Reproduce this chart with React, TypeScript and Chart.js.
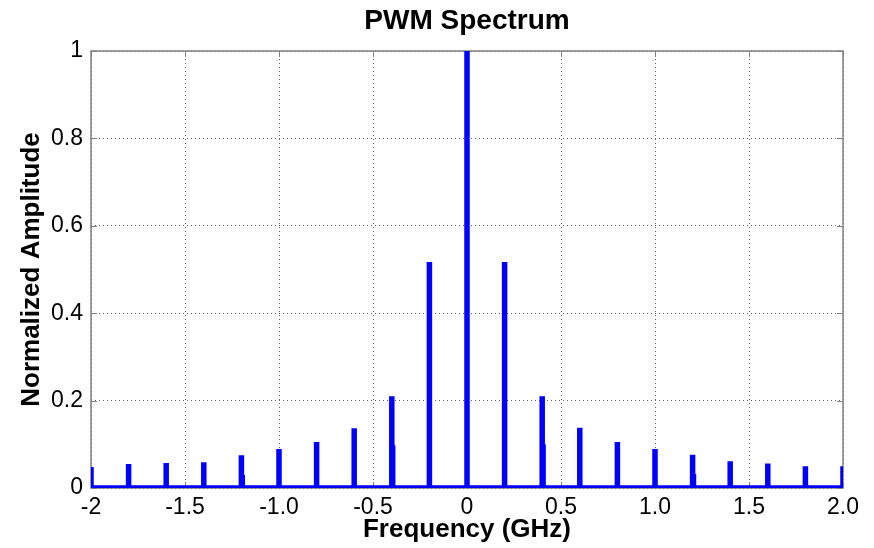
import React, { useEffect, useRef } from 'react';
import { Chart, registerables } from 'chart.js';

Chart.register(...registerables);

const FONT = "'Liberation Sans', Arial, Helvetica, sans-serif";

// Harmonic lines of the PWM spectrum (GHz) and their normalized amplitudes
const harmonicFreqs = [
  -2.0, -1.8, -1.6, -1.4, -1.2, -1.0, -0.8, -0.6, -0.4, -0.2,
  0.0, 0.2, 0.4, 0.6, 0.8, 1.0, 1.2, 1.4, 1.6, 1.8, 2.0,
];
const harmonicAmps = [
  0.048, 0.055, 0.057, 0.059, 0.075, 0.089, 0.105, 0.137, 0.21, 0.517,
  1.0, 0.517, 0.21, 0.138, 0.105, 0.089, 0.076, 0.061, 0.056, 0.05, 0.05,
];

// Neighbouring spectral bins just above some harmonics (leakage shoulders)
const shoulderFreqs = [-1.19, -0.39, 0.41, 1.21];
const shoulderAmps = [0.03, 0.098, 0.1, 0.032];

const xTickValues = [-2, -1.5, -1, -0.5, 0, 0.5, 1, 1.5, 2];
const xTickLabels = ['-2', '-1.5', '-1.0', '-0.5', '0', '0.5', '1.0', '1.5', '2.0'];
const yTickValues = [0, 0.2, 0.4, 0.6, 0.8, 1];
const yTickLabels = ['0', '0.2', '0.4', '0.6', '0.8', '1'];

// Stem trace: each harmonic rises from the baseline and drops back to it
function stemTrace() {
  const pts: { x: number; y: number }[] = [];
  harmonicFreqs.forEach((f, i) => {
    pts.push({ x: f, y: 0 }, { x: f, y: harmonicAmps[i] }, { x: f, y: 0 });
  });
  return pts;
}

// Separate short stems, broken apart with gaps
function shoulderTrace() {
  const pts: { x: number; y: number | null }[] = [];
  shoulderFreqs.forEach((f, i) => {
    pts.push({ x: f, y: 0 }, { x: f, y: shoulderAmps[i] }, { x: f, y: null });
  });
  return pts;
}

// Axes box with inward tick marks on all four sides
const axesBox = {
  id: 'axesBox',
  beforeDatasetsDraw(chart: any) {
    const { ctx, chartArea: a, scales } = chart;
    const x = scales.x;
    const y = scales.y;
    ctx.save();
    ctx.strokeStyle = '#808080';
    ctx.lineWidth = 1.5;
    ctx.setLineDash([]);
    ctx.strokeRect(a.left, a.top, a.right - a.left, a.bottom - a.top);
    ctx.beginPath();
    const len = 6;
    xTickValues.forEach((v) => {
      const px = Math.round(x.getPixelForValue(v)) + 0.5;
      ctx.moveTo(px, a.bottom);
      ctx.lineTo(px, a.bottom - len);
      ctx.moveTo(px, a.top);
      ctx.lineTo(px, a.top + len);
    });
    yTickValues.forEach((v) => {
      const py = Math.round(y.getPixelForValue(v)) + 0.5;
      ctx.moveTo(a.left, py);
      ctx.lineTo(a.left + len, py);
      ctx.moveTo(a.right, py);
      ctx.lineTo(a.right - len, py);
    });
    ctx.lineWidth = 1;
    ctx.stroke();
    ctx.restore();
  },
};

export default function App() {
  const canvasRef = useRef<HTMLCanvasElement | null>(null);

  useEffect(() => {
    const canvas = canvasRef.current;
    if (!canvas) return;
    const gridColor = 'rgba(0,0,0,0.62)';
    const chart = new Chart(canvas, {
      type: 'line',
      data: {
        datasets: [
          {
            data: stemTrace(),
            borderColor: '#0000ff',
            borderWidth: 5.5,
            borderJoinStyle: 'miter',
            borderCapStyle: 'butt',
            pointRadius: 0,
            tension: 0,
            fill: false,
          },
          {
            data: shoulderTrace(),
            borderColor: '#0000ff',
            borderWidth: 3.5,
            borderCapStyle: 'butt',
            pointRadius: 0,
            tension: 0,
            fill: false,
            spanGaps: false,
          },
        ],
      },
      options: {
        animation: false,
        responsive: false,
        events: [],
        layout: { padding: { left: 0, right: 31, top: 0, bottom: 0 } },
        plugins: {
          legend: { display: false },
          tooltip: { enabled: false },
          title: {
            display: true,
            text: 'PWM Spectrum',
            fullSize: false,
            color: '#000',
            font: { family: FONT, size: 28, weight: 'bold' },
            padding: { top: 4, bottom: 13.4 },
          },
        },
        scales: {
          x: {
            type: 'linear',
            min: -2,
            max: 2,
            afterBuildTicks: (s: any) => {
              s.ticks = xTickValues.map((v) => ({ value: v }));
            },
            afterFit: (s: any) => {
              s.height = 60;
            },
            ticks: {
              callback: (_v: any, i: number) => xTickLabels[i],
              color: '#000',
              font: { family: FONT, size: 23 },
              padding: 6,
              maxRotation: 0,
              autoSkip: false,
            },
            grid: { color: gridColor, lineWidth: 1, drawTicks: false },
            border: { display: false, dash: [1, 3] },
            title: {
              display: true,
              text: 'Frequency (GHz)',
              color: '#000',
              font: { family: FONT, size: 26, weight: 'bold' },
              padding: { top: 0, bottom: 3 },
            },
          },
          y: {
            type: 'linear',
            min: 0,
            max: 1,
            afterBuildTicks: (s: any) => {
              s.ticks = yTickValues.map((v) => ({ value: v }));
            },
            afterFit: (s: any) => {
              s.width = 91;
            },
            ticks: {
              callback: (_v: any, i: number) => yTickLabels[i],
              color: '#000',
              font: { family: FONT, size: 23 },
              padding: 8,
              autoSkip: false,
            },
            grid: { color: gridColor, lineWidth: 1, drawTicks: false },
            border: { display: false, dash: [1, 3] },
            title: {
              display: true,
              text: 'Normalized Amplitude',
              color: '#000',
              font: { family: FONT, size: 26, weight: 'bold' },
              padding: { top: 16, bottom: 0 },
            },
          },
        },
      },
      plugins: [axesBox],
    } as any);
    return () => chart.destroy();
  }, []);

  return (
    <div style={{ position: 'fixed', left: 0, top: 0, width: 874, height: 548, background: '#fff' }}>
      <canvas ref={canvasRef} width={874} height={548} />
    </div>
  );
}
